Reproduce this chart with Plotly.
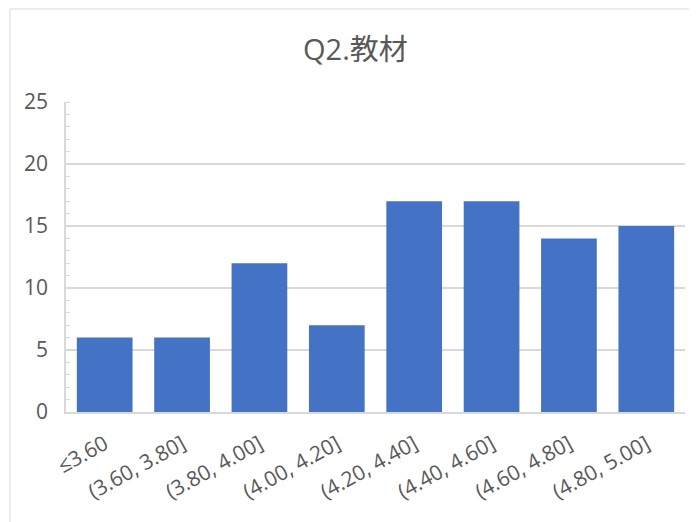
import plotly.graph_objects as go

categories = ["≤3.60", "(3.60, 3.80]", "(3.80, 4.00]", "(4.00, 4.20]",
              "(4.20, 4.40]", "(4.40, 4.60]", "(4.60, 4.80]", "(4.80, 5.00]"]
counts = [6, 6, 12, 7, 17, 17, 14, 15]
y_ticks = [0, 5, 10, 15, 20, 25]
title_text = "Q2.教材"

W, H = 697, 522
OFF = 8  # page body offset
L, R, T, B = 66 - OFF, 12 + OFF, 102 - OFF, 110 + OFF
pw, ph = W - L - R, H - T - B

def px_x(x):
    return (x - OFF - L) / pw

def px_y(y):
    return (H - B - (y - OFF)) / ph

fig = go.Figure(go.Bar(x=categories, y=counts, marker=dict(color="#4472C4", line=dict(width=0))))

fig.update_layout(
    width=W, height=H,
    margin=dict(l=L, r=R, t=T, b=B),
    paper_bgcolor="white", plot_bgcolor="white",
    bargap=0.28,
    showlegend=False,
    font=dict(family="Open Sans, Noto Sans CJK SC", color="#595959", size=18),
)
fig.update_xaxes(
    tickangle=-29, showline=True, linecolor="#D9D9D9", linewidth=1.5,
    showgrid=False, ticks="", tickfont=dict(size=21, color="#595959"),
    ticklabelstandoff=10,
)
fig.update_yaxes(
    range=[0, 25], tickvals=y_ticks, showgrid=True, gridcolor="#D9D9D9", gridwidth=1.5,
    showline=True, linecolor="#D9D9D9", linewidth=1.5, ticks="", zeroline=False,
    tickfont=dict(size=21, color="#595959"), ticklabelstandoff=12,
    minor=dict(dtick=1, ticks="inside", ticklen=4, tickcolor="#D9D9D9", showgrid=False),
)
fig.add_annotation(
    text=title_text, xref="paper", yref="paper",
    x=px_x(355), y=px_y(48), xanchor="center", yanchor="middle",
    showarrow=False, font=dict(size=29, color="#595959", family="Open Sans, Noto Sans CJK SC"),
)
fig.add_shape(
    type="rect", xref="paper", yref="paper",
    x0=px_x(10), x1=px_x(W + 40),
    y0=px_y(H + 40), y1=px_y(9),
    line=dict(color="#D9D9D9", width=1), fillcolor="rgba(0,0,0,0)", layer="below",
)
fig.write_html("out.html")
